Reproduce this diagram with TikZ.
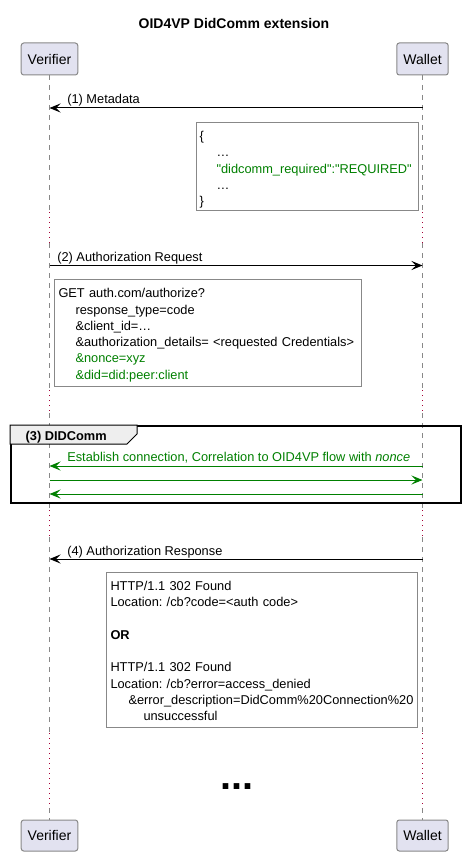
\documentclass[tikz,border=0pt]{standalone}
\usepackage{fontspec}
\newfontfamily\umlfont{Liberation Sans}
\usetikzlibrary{arrows.meta}
\definecolor{partfill}{HTML}{E2E2F0}
\definecolor{boxgray}{HTML}{888888}
\definecolor{delayred}{HTML}{A80036}
\definecolor{okgreen}{HTML}{008000}
\definecolor{tabfill}{HTML}{EEEEEE}
\frenchspacing
\begin{document}
\begin{tikzpicture}[x=1pt,y=-1pt,line width=1pt,
		font=\umlfont\fontsize{12.8}{16.25}\selectfont\frenchspacing,
		part/.style={draw=boxgray,fill=partfill,rounded corners=2.5pt,inner xsep=6.5pt,inner ysep=0,
			minimum height=32pt,font=\umlfont\fontsize{14}{16}\selectfont},
		life/.style={draw=boxgray,dash pattern=on 5pt off 5pt},
		pause/.style={draw=delayred,dash pattern=on 1pt off 4pt},
		msg/.style={draw=black,-{Stealth[length=11pt,width=9pt,inset=4.5pt]}},
		gmsg/.style={msg,draw=okgreen},
		lbl/.style={anchor=base west,inner sep=0},
		note/.style={draw=boxgray,fill=white,anchor=north west,align=left,inner ysep=0}]
		\useasboundingbox (0,0) rectangle (464,856);
		\node[font=\umlfont\fontsize{14}{16}\selectfont\bfseries] (title) at (234,23) {OID4VP DidComm extension};
		\node[part] (v) at (49.5,59) {Verifier};
		\node[part] (w) at (422.5,59) {Wallet};
		\node[part,minimum height=31pt] (vb) at (49.5,835.5) {Verifier};
		\node[part,minimum height=31pt] (wb) at (422.5,835.5) {Wallet};
		\foreach \p in {v,w}{
			\foreach \a/\b in {75/212,243/390,413/510,537/733,808/820}
				\draw[life] (\p |- 0,\a) -- (\p |- 0,\b);
			\foreach \a/\b in {212/243,390/413,510/537,733/808}
				\draw[pause] (\p |- 0,\a) -- (\p |- 0,\b);
		}
		\draw[msg] (w |- 0,108) -- (v |- 0,108);
		\node[lbl] (m1) at (66.8,103.5) {(1) Metadata};
		\node[note,inner xsep=3pt,text width=216pt,minimum height=87pt] (n1) at (196,122)
			{\rule{0pt}{18pt}\{\\
			\hspace*{17pt}…\\
			\hspace*{17pt}\textcolor{okgreen}{"didcomm\_required":"REQUIRED"}\\
			\hspace*{17pt}…\\
			\}\rule[-5pt]{0pt}{5pt}};
		\draw[msg] (v |- 0,265.5) -- (w |- 0,265.5);
		\node[lbl] (m2) at (56.8,261.5) {(2) Authorization Request};
		\node[note,inner xsep=4pt,text width=299pt,minimum height=107pt] (n2) at (54,279)
			{\rule{0pt}{18.3pt}GET auth.com/authorize?\\
			\hspace*{17pt}response\_type=code\\
			\hspace*{17pt}\&client\_id=…\\
			\hspace*{17pt}\&authorization\_details= <requested Credentials>\\
			\hspace*{17pt}\textcolor{okgreen}{\&nonce=xyz}\\
			\hspace*{17pt}\textcolor{okgreen}{\&did=did:peer:client}\rule[-7.4pt]{0pt}{7.4pt}};
		\node[draw,line width=1.5pt,anchor=north west,inner sep=0,minimum width=450pt,minimum height=77pt] (grp) at (10,425) {};
		\draw[fill=tabfill] (grp.north west) -- ++(127,0) -- ++(0,9) -- ++(-10,10) -- ++(-117,0) -- cycle;
		\node[lbl,font=\umlfont\fontsize{12.8}{16}\selectfont\bfseries] (g) at (25.2,440) {(3) DIDComm};
		\draw[gmsg] (w |- 0,466) -- (v |- 0,466);
		\node[lbl,okgreen] (m3) at (66.8,461.7) {Establish connection, Correlation to OID4VP flow with \textit{nonce}};
		\draw[gmsg] (v |- 0,480) -- (w |- 0,480);
		\draw[gmsg] (w |- 0,494) -- (v |- 0,494);
		\draw[msg] (w |- 0,559) -- (v |- 0,559);
		\node[lbl] (m4) at (66.8,555) {(4) Authorization Response};
		\node[note,inner xsep=4pt,text width=303pt,minimum height=155pt] (n3) at (106,572)
			{\rule{0pt}{18pt}HTTP/1.1 302 Found\\
			Location: /cb?code=<auth code>\\
			~\\
			\textbf{OR}\\
			~\\
			HTTP/1.1 302 Found\\
			Location: /cb?error=access\_denied\\
			\hspace*{18pt}\mbox{\&error\_description=DidComm\%20Connection\%20}\\
			\hspace*{33pt}unsuccessful\rule[-7pt]{0pt}{7pt}};
		\node[anchor=base,inner sep=0,font=\umlfont\fontsize{39.6}{40}\selectfont\bfseries] (more) at (236.7,789) {...};
\end{tikzpicture}
\end{document}
